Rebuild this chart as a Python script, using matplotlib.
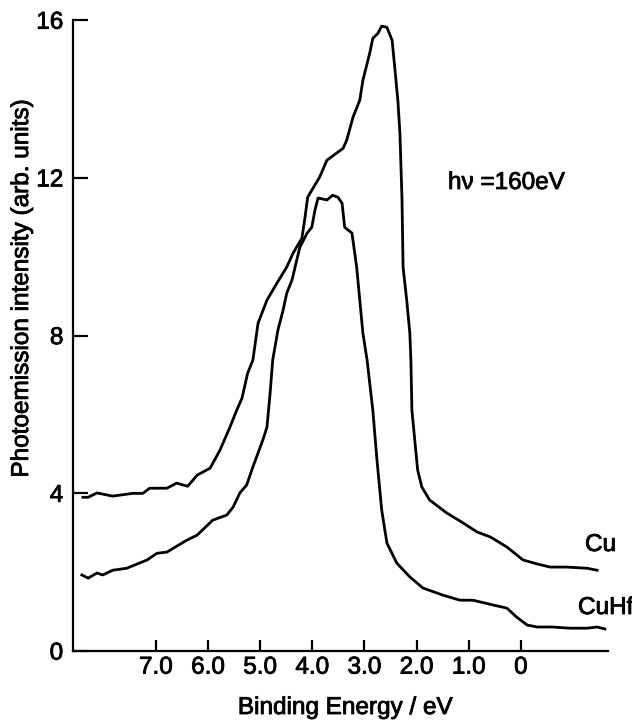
import matplotlib.pyplot as plt
import matplotlib.patheffects as pe

plt.rcParams['font.family'] = ['Liberation Sans', 'DejaVu Sans']

# Cu spectrum (binding energy in eV, intensity)
cu_energy = [8.40, 8.30, 8.13, 7.83, 7.44, 7.25, 7.12, 6.79, 6.60, 6.50, 6.39, 6.21,
             5.96, 5.77, 5.58, 5.45, 5.35, 5.24, 5.14, 5.06, 5.04, 4.87, 4.68, 4.49,
             4.37, 4.20, 4.14, 4.09, 3.95, 3.86, 3.72, 3.41, 3.34, 3.22, 3.09, 3.03,
             2.90, 2.84, 2.74, 2.67, 2.57, 2.47, 2.42, 2.36, 2.32, 2.28, 2.26, 2.19,
             2.13, 2.11, 2.09, 2.03, 1.98, 1.90, 1.75, 1.42, 1.11, 0.84, 0.58, 0.27,
             -0.04, -0.31, -0.56, -0.88, -1.27, -1.46]
cu_int = [3.90, 3.90, 4.01, 3.93, 4.00, 4.00, 4.13, 4.13, 4.26, 4.22, 4.18, 4.46,
          4.64, 5.10, 5.68, 6.11, 6.41, 7.05, 7.38, 8.14, 8.32, 8.90, 9.33, 9.74,
          10.09, 10.47, 11.00, 11.51, 11.82, 12.02, 12.45, 12.75, 12.96, 13.54, 13.97, 14.48,
          15.16, 15.54, 15.67, 15.85, 15.82, 15.49, 14.81, 13.97, 13.13, 11.44, 9.74, 8.90,
          8.06, 7.38, 6.11, 5.27, 4.59, 4.16, 3.83, 3.50, 3.25, 3.02, 2.89, 2.64,
          2.31, 2.21, 2.13, 2.13, 2.10, 2.05]

# CuHf spectrum
cuhf_energy = [8.42, 8.30, 8.13, 8.02, 7.83, 7.56, 7.17, 6.98, 6.79, 6.41, 6.21, 5.91,
               5.64, 5.52, 5.39, 5.26, 5.14, 4.95, 4.87, 4.81, 4.76, 4.66, 4.56, 4.49,
               4.39, 4.30, 4.24, 4.10, 4.01, 3.95, 3.89, 3.72, 3.61, 3.51, 3.43, 3.38,
               3.24, 3.15, 3.09, 3.03, 2.95, 2.84, 2.76, 2.67, 2.57, 2.38, 2.13, 1.88,
               1.50, 1.17, 0.92, 0.54, 0.27, 0.08, -0.12, -0.31, -0.61, -0.94, -1.27,
               -1.46, -1.61]
cuhf_int = [1.93, 1.85, 1.98, 1.93, 2.05, 2.10, 2.31, 2.48, 2.51, 2.81, 2.94, 3.32,
            3.45, 3.65, 4.01, 4.21, 4.67, 5.35, 5.68, 6.54, 7.38, 8.14, 8.65, 9.08,
            9.41, 9.91, 10.24, 10.60, 10.75, 11.18, 11.49, 11.44, 11.56, 11.51, 11.36, 10.75,
            10.60, 9.74, 8.90, 8.06, 7.38, 6.11, 4.84, 3.58, 2.74, 2.23, 1.88, 1.60,
            1.42, 1.29, 1.29, 1.17, 1.09, 0.86, 0.66, 0.61, 0.61, 0.58, 0.58,
            0.61, 0.56]

x_ticks = [7.0, 6.0, 5.0, 4.0, 3.0, 2.0, 1.0, 0.0]
x_tick_labels = ['7.0', '6.0', '5.0', '4.0', '3.0', '2.0', '1.0', '0']
y_ticks = [0, 4, 8, 12, 16]

FS = 17.5
bold_fx = [pe.withStroke(linewidth=0.6, foreground='black')]

fig = plt.figure(figsize=(6.32, 7.21), dpi=100)
ax = fig.add_axes([0.1155, 0.097, 0.8465, 0.875])

ax.plot(cu_energy, cu_int, color='black', lw=2.0)
ax.plot(cuhf_energy, cuhf_int, color='black', lw=2.0)

ax.set_xlim(8.59, -1.67)
ax.set_ylim(0, 16)
ax.set_xticks(x_ticks)
ax.set_xticklabels(x_tick_labels)
ax.set_yticks(y_ticks)

for s in ['top', 'right']:
    ax.spines[s].set_visible(False)
for s in ['left', 'bottom']:
    ax.spines[s].set_linewidth(1.6)

ax.tick_params(direction='in', width=1.6, labelsize=FS)
ax.tick_params(axis='y', length=10.5, pad=7)
ax.tick_params(axis='x', length=8, pad=4)
for lab in ax.get_xticklabels() + ax.get_yticklabels():
    lab.set_path_effects(bold_fx)

fig.text(22 / 632, 1 - 289 / 721, 'Photoemission intensity (arb. units)', fontsize=FS,
         rotation=90, ha='center', va='center', path_effects=bold_fx)
fig.text(345 / 632, 1 - 708 / 721, 'Binding Energy / eV', fontsize=FS,
         ha='center', va='center', path_effects=bold_fx)

fig.text(448 / 632, 1 - 183 / 721, 'hν =160eV', fontsize=FS, ha='left', va='center',
         path_effects=bold_fx)
fig.text(585 / 632, 1 - 545 / 721, 'Cu', fontsize=FS, ha='left', va='center',
         path_effects=bold_fx)
fig.text(578 / 632, 1 - 608 / 721, 'CuHf', fontsize=FS, ha='left', va='center',
         path_effects=bold_fx)

fig.savefig('out.png', dpi=100)
